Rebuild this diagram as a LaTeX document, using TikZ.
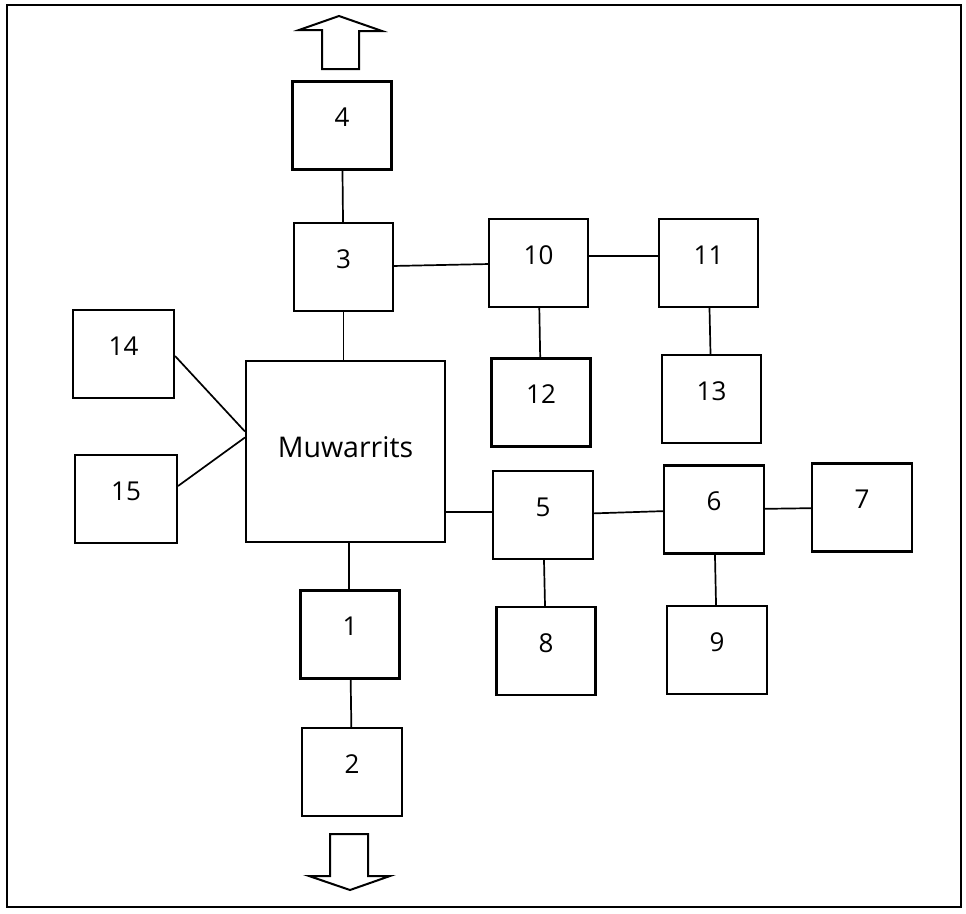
\documentclass[tikz,border=0pt]{standalone}
\usepackage{fontspec}
\setmainfont{Open Sans}
\begin{document}
\begin{tikzpicture}[x=1pt,y=-1pt,
  box/.style={draw,line width=2.1pt,minimum width=99pt,minimum height=88pt,inner sep=0pt,
    font=\fontsize{26}{28}\selectfont,text height=2pt,text depth=0pt},
  link/.style={line width=1.7pt},
  bigarrow/.style={draw,line width=2pt,line join=miter,fill=white}]
\useasboundingbox (0,0) rectangle (966,913);
\draw[line width=2.8pt] (7,5) rectangle (961,907);
% boxes
\node[box] (b4)  at (342,125.5) {4};
\node[box] (b3)  at (343.5,267) {3};
\node[box] (b10) at (538.5,263) {10};
\node[box] (b11) at (708.5,263) {11};
\node[box] (b12) at (541,402.5) {12};
\node[box] (b13) at (711.5,399) {13};
\node[box,minimum width=101pt] (b14) at (123.5,354) {14};
\node[box,minimum width=102pt] (b15) at (126,499) {15};
\node[box,minimum width=199pt,minimum height=181pt,font=\fontsize{28.5}{30}\selectfont,text height=12pt] (muw) at (345.5,451.5) {Muwarrits};
\node[box,minimum width=100pt] (b5) at (543,515) {5};
\node[box,minimum width=100pt] (b6) at (714,509.5) {6};
\node[box,minimum width=100pt] (b7) at (862,507.5) {7};
\node[box] (b8) at (546,651) {8};
\node[box,minimum width=100pt] (b9) at (717,650) {9};
\node[box] (b1) at (350,634.5) {1};
\node[box,minimum width=100pt] (b2) at (352,772) {2};
% connectors
\draw[link] (b4) -- (b3);
\draw[link] (b3.south) -- (b3.south |- muw.north);
\draw[link] (b3) -- (b10);
\draw[link] ([yshift=7pt]b10.east) -- ([yshift=7pt]b11.west);
\draw[link] (b10) -- (b12);
\draw[link] (b11) -- (b13);
\draw[link] ([yshift=-2pt]b14.east) -- ([yshift=20pt]muw.west);
\draw[link] ([yshift=13pt]b15.east) -- ([yshift=14pt]muw.west);
\draw[link] ([yshift=3pt]b5.west -| muw.east) -- ([yshift=3pt]b5.west);
\draw[link] (b5) -- (b6);
\draw[link] (b6) -- (b7);
\draw[link] (b5) -- (b8);
\draw[link] (b6) -- (b9);
\draw[link] ([xshift=-1pt]b1.north |- muw.south) -- ([xshift=-1pt]b1.north);
\draw[link] (b1) -- (b2);
% open arrows
\draw[bigarrow] (322,69) -- (322,30) -- (299,30) -- (339,16) -- (382,31) -- (359,31) -- (359,69) -- cycle;
\draw[bigarrow] (330,834) -- (368,834) -- (368,876) -- (390,876) -- (350,890) -- (309,876) -- (330,876) -- cycle;
\end{tikzpicture}
\end{document}
